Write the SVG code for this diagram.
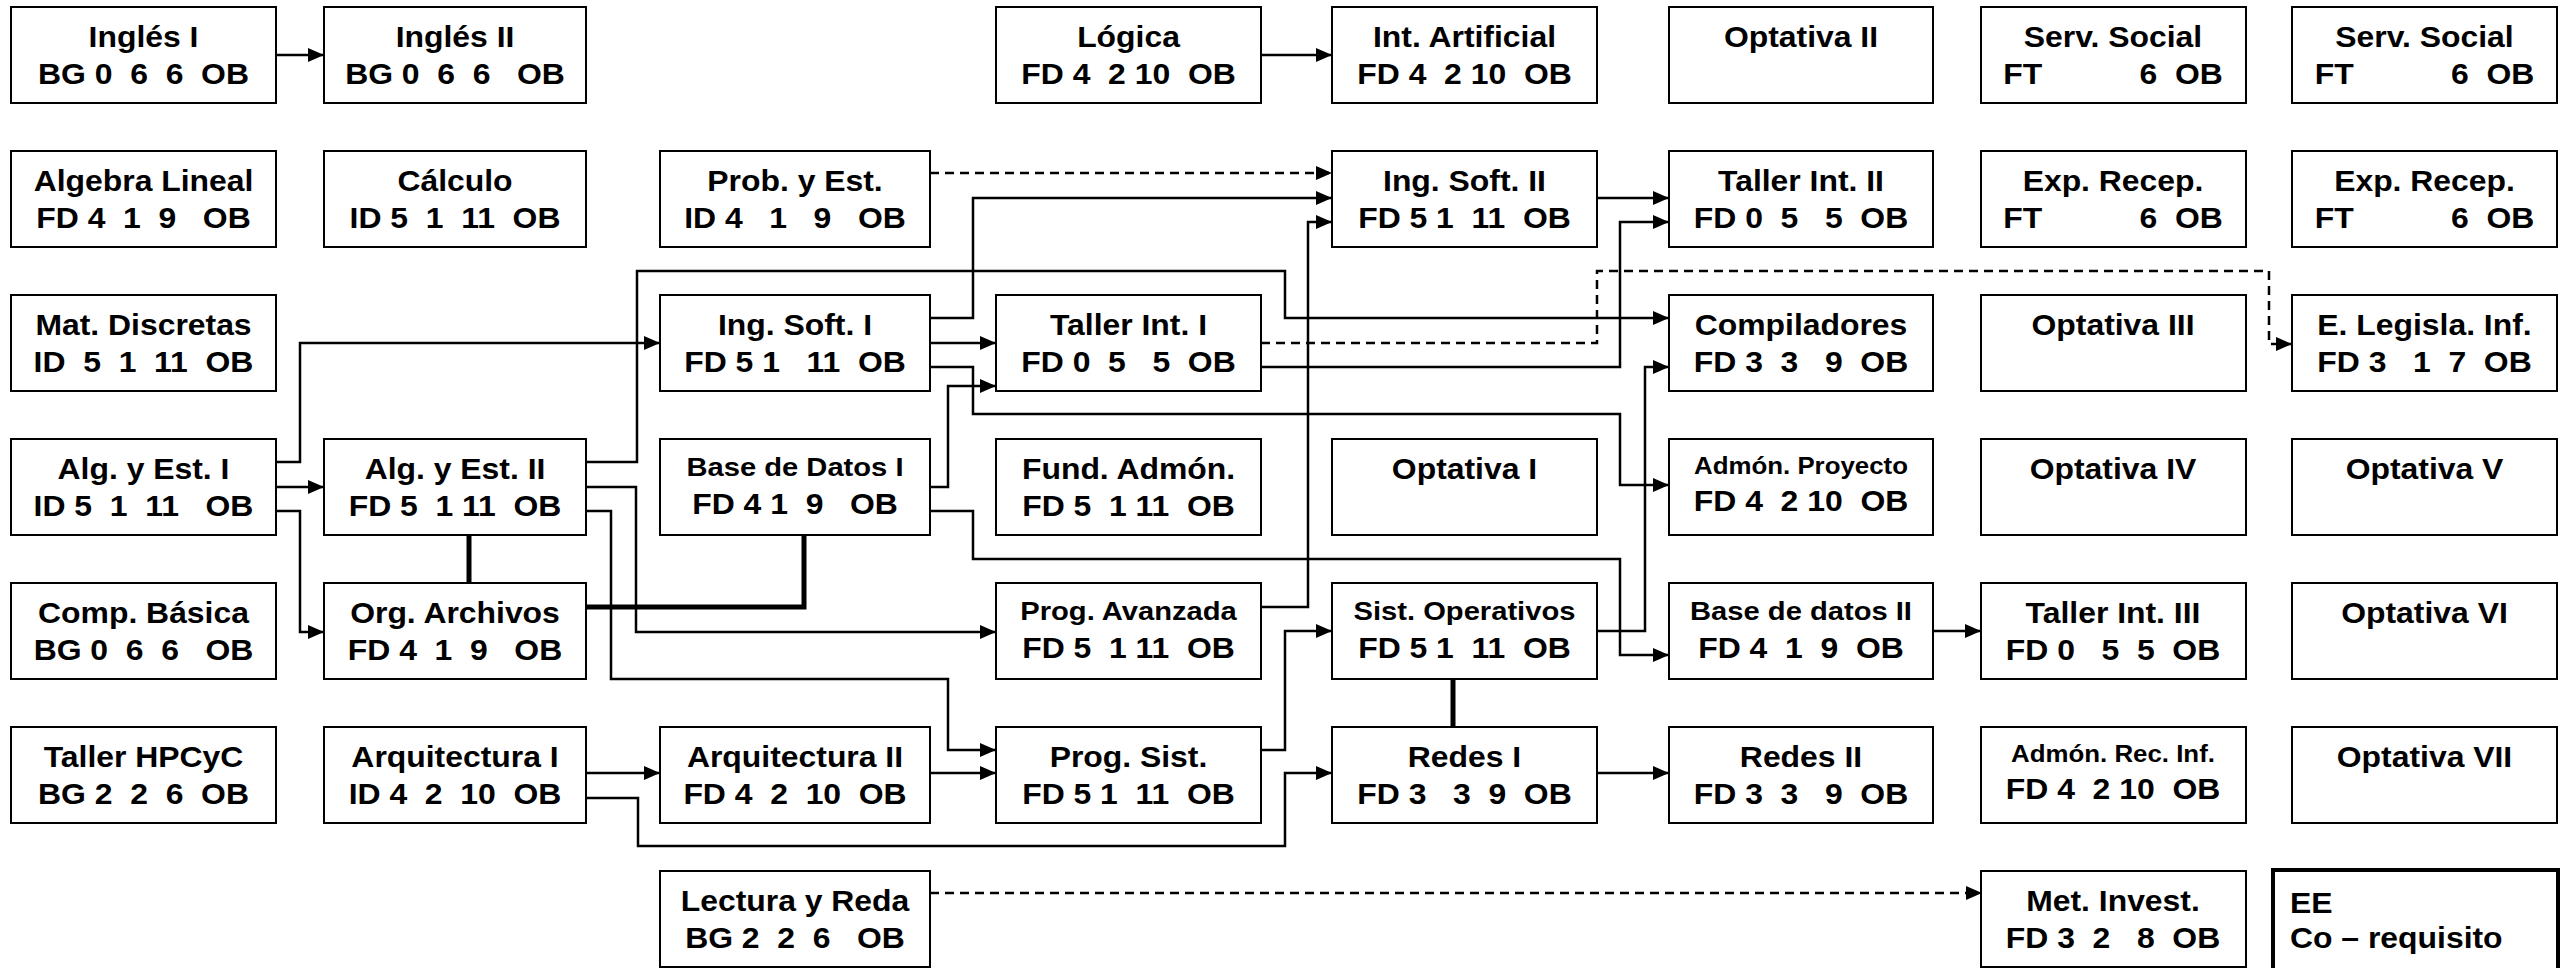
<svg xmlns="http://www.w3.org/2000/svg" width="2569" height="968" viewBox="0 0 2569 968">
<style>
.b{fill:#fff;stroke:#000;stroke-width:2}
.t{font-family:"Liberation Sans",Arial,sans-serif;font-weight:bold;font-size:29px;text-anchor:middle;white-space:pre;fill:#000}
.s{font-size:26.5px}
.xs{font-size:23.5px}
.l{text-anchor:start}
.c{fill:none;stroke:#000;stroke-width:2.5}
.d{stroke-dasharray:9 6}
.k{stroke-width:5}
</style>
<defs>
<marker id="ah" viewBox="0 0 16 14" refX="16" refY="7" markerWidth="16" markerHeight="14" markerUnits="userSpaceOnUse" orient="auto">
<path d="M0,0 L16,7 L0,14 z" fill="#000"/>
</marker>
</defs>
<rect width="2569" height="968" fill="#fff"/>
<g id="connectors">
<g marker-end="url(#ah)">
<path class="c" d="M276,55 H324"/>
<path class="c" d="M1261,55 H1332"/>
<path class="c" d="M930,318 H973 V198 H1332"/>
<path class="c" d="M1261,607 H1308 V222 H1332"/>
<path class="c" d="M1597,198 H1669"/>
<path class="c" d="M1261,367 H1620 V222 H1669"/>
<path class="c" d="M276,462 H300 V343 H660"/>
<path class="c" d="M276,487 H324"/>
<path class="c" d="M276,511 H300 V632 H324"/>
<path class="c" d="M586,462 H637 V271 H1285 V318 H1669"/>
<path class="c" d="M586,487 H636 V632 H996"/>
<path class="c" d="M586,511 H611 V679 H948 V750 H996"/>
<path class="c" d="M930,343 H996"/>
<path class="c" d="M930,487 H948 V386 H996"/>
<path class="c" d="M930,367 H973 V414 H1620 V485 H1669"/>
<path class="c" d="M930,511 H973 V559 H1620 V655 H1669"/>
<path class="c" d="M1597,631 H1645 V367 H1669"/>
<path class="c" d="M1261,750 H1285 V631 H1332"/>
<path class="c" d="M1597,773 H1669"/>
<path class="c" d="M586,798 H638 V846 H1285 V773 H1332"/>
<path class="c" d="M586,773 H660"/>
<path class="c" d="M930,773 H996"/>
<path class="c" d="M1933,631 H1981"/>
<path class="c d" d="M930,173 H1332"/>
<path class="c d" d="M1261,343 H1597 V271 H2269 V344 H2292"/>
<path class="c d" d="M930,893 H1982"/>
</g>
<path class="c k" d="M469,535 V583"/>
<path class="c k" d="M586,607 H804 V535"/>
<path class="c k" d="M1453,679 V727"/>
</g>

<g id="ingles1"><rect class="b" x="11" y="7" width="265" height="96"/><text class="t" transform="translate(143.5 47) scale(1.1 1)">Inglés I</text><text class="t" transform="translate(143.5 84) scale(1.1 1)">BG 0  6  6  OB</text></g>
<g id="ingles2"><rect class="b" x="324" y="7" width="262" height="96"/><text class="t" transform="translate(455 47) scale(1.1 1)">Inglés II</text><text class="t" transform="translate(455 84) scale(1.1 1)">BG 0  6  6   OB</text></g>
<g id="logica"><rect class="b" x="996" y="7" width="265" height="96"/><text class="t" transform="translate(1128.5 47) scale(1.1 1)">Lógica</text><text class="t" transform="translate(1128.5 84) scale(1.1 1)">FD 4  2 10  OB</text></g>
<g id="intart"><rect class="b" x="1332" y="7" width="265" height="96"/><text class="t" transform="translate(1464.5 47) scale(1.1 1)">Int. Artificial</text><text class="t" transform="translate(1464.5 84) scale(1.1 1)">FD 4  2 10  OB</text></g>
<g id="opt2"><rect class="b" x="1669" y="7" width="264" height="96"/><text class="t" transform="translate(1801 47) scale(1.1 1)">Optativa II</text></g>
<g id="serv1"><rect class="b" x="1981" y="7" width="265" height="96"/><text class="t" transform="translate(2113 47) scale(1.1 1)">Serv. Social</text><text class="t" transform="translate(2113 84) scale(1.1 1)">FT           6  OB</text></g>
<g id="serv2"><rect class="b" x="2292" y="7" width="265" height="96"/><text class="t" transform="translate(2424.5 47) scale(1.1 1)">Serv. Social</text><text class="t" transform="translate(2424.5 84) scale(1.1 1)">FT           6  OB</text></g>

<g id="algebra"><rect class="b" x="11" y="151" width="265" height="96"/><text class="t" transform="translate(143.5 191) scale(1.1 1)">Algebra Lineal</text><text class="t" transform="translate(143.5 228) scale(1.1 1)">FD 4  1  9   OB</text></g>
<g id="calculo"><rect class="b" x="324" y="151" width="262" height="96"/><text class="t" transform="translate(455 191) scale(1.1 1)">Cálculo</text><text class="t" transform="translate(455 228) scale(1.1 1)">ID 5  1  11  OB</text></g>
<g id="probest"><rect class="b" x="660" y="151" width="270" height="96"/><text class="t" transform="translate(795 191) scale(1.1 1)">Prob. y Est.</text><text class="t" transform="translate(795 228) scale(1.1 1)">ID 4   1   9   OB</text></g>
<g id="ingsoft2"><rect class="b" x="1332" y="151" width="265" height="96"/><text class="t" transform="translate(1464.5 191) scale(1.1 1)">Ing. Soft. II</text><text class="t" transform="translate(1464.5 228) scale(1.1 1)">FD 5 1  11  OB</text></g>
<g id="tallerint2"><rect class="b" x="1669" y="151" width="264" height="96"/><text class="t" transform="translate(1801 191) scale(1.1 1)">Taller Int. II</text><text class="t" transform="translate(1801 228) scale(1.1 1)">FD 0  5   5  OB</text></g>
<g id="exp1"><rect class="b" x="1981" y="151" width="265" height="96"/><text class="t" transform="translate(2113 191) scale(1.1 1)">Exp. Recep.</text><text class="t" transform="translate(2113 228) scale(1.1 1)">FT           6  OB</text></g>
<g id="exp2"><rect class="b" x="2292" y="151" width="265" height="96"/><text class="t" transform="translate(2424.5 191) scale(1.1 1)">Exp. Recep.</text><text class="t" transform="translate(2424.5 228) scale(1.1 1)">FT           6  OB</text></g>

<g id="matdisc"><rect class="b" x="11" y="295" width="265" height="96"/><text class="t" transform="translate(143.5 335) scale(1.1 1)">Mat. Discretas</text><text class="t" transform="translate(143.5 372) scale(1.1 1)">ID  5  1  11  OB</text></g>
<g id="ingsoft1"><rect class="b" x="660" y="295" width="270" height="96"/><text class="t" transform="translate(795 335) scale(1.1 1)">Ing. Soft. I</text><text class="t" transform="translate(795 372) scale(1.1 1)">FD 5 1   11  OB</text></g>
<g id="tallerint1"><rect class="b" x="996" y="295" width="265" height="96"/><text class="t" transform="translate(1128.5 335) scale(1.1 1)">Taller Int. I</text><text class="t" transform="translate(1128.5 372) scale(1.1 1)">FD 0  5   5  OB</text></g>
<g id="compiladores"><rect class="b" x="1669" y="295" width="264" height="96"/><text class="t" transform="translate(1801 335) scale(1.1 1)">Compiladores</text><text class="t" transform="translate(1801 372) scale(1.1 1)">FD 3  3   9  OB</text></g>
<g id="opt3"><rect class="b" x="1981" y="295" width="265" height="96"/><text class="t" transform="translate(2113 335) scale(1.1 1)">Optativa III</text></g>
<g id="legisla"><rect class="b" x="2292" y="295" width="265" height="96"/><text class="t" transform="translate(2424.5 335) scale(1.1 1)">E. Legisla. Inf.</text><text class="t" transform="translate(2424.5 372) scale(1.1 1)">FD 3   1  7  OB</text></g>

<g id="algest1"><rect class="b" x="11" y="439" width="265" height="96"/><text class="t" transform="translate(143.5 479) scale(1.1 1)">Alg. y Est. I</text><text class="t" transform="translate(143.5 516) scale(1.1 1)">ID 5  1  11   OB</text></g>
<g id="algest2"><rect class="b" x="324" y="439" width="262" height="96"/><text class="t" transform="translate(455 479) scale(1.1 1)">Alg. y Est. II</text><text class="t" transform="translate(455 516) scale(1.1 1)">FD 5  1 11  OB</text></g>
<g id="bd1"><rect class="b" x="660" y="439" width="270" height="96"/><text class="t s" transform="translate(795 476) scale(1.1 1)">Base de Datos I</text><text class="t" transform="translate(795 514) scale(1.1 1)">FD 4 1  9   OB</text></g>
<g id="fundadmon"><rect class="b" x="996" y="439" width="265" height="96"/><text class="t" transform="translate(1128.5 479) scale(1.1 1)">Fund. Admón.</text><text class="t" transform="translate(1128.5 516) scale(1.1 1)">FD 5  1 11  OB</text></g>
<g id="opt1"><rect class="b" x="1332" y="439" width="265" height="96"/><text class="t" transform="translate(1464.5 479) scale(1.1 1)">Optativa I</text></g>
<g id="admonproy"><rect class="b" x="1669" y="439" width="264" height="96"/><text class="t xs" transform="translate(1801 474) scale(1.1 1)">Admón. Proyecto</text><text class="t" transform="translate(1801 511) scale(1.1 1)">FD 4  2 10  OB</text></g>
<g id="opt4"><rect class="b" x="1981" y="439" width="265" height="96"/><text class="t" transform="translate(2113 479) scale(1.1 1)">Optativa IV</text></g>
<g id="opt5"><rect class="b" x="2292" y="439" width="265" height="96"/><text class="t" transform="translate(2424.5 479) scale(1.1 1)">Optativa V</text></g>

<g id="compbasica"><rect class="b" x="11" y="583" width="265" height="96"/><text class="t" transform="translate(143.5 623) scale(1.1 1)">Comp. Básica</text><text class="t" transform="translate(143.5 660) scale(1.1 1)">BG 0  6  6   OB</text></g>
<g id="orgarch"><rect class="b" x="324" y="583" width="262" height="96"/><text class="t" transform="translate(455 623) scale(1.1 1)">Org. Archivos</text><text class="t" transform="translate(455 660) scale(1.1 1)">FD 4  1  9   OB</text></g>
<g id="progav"><rect class="b" x="996" y="583" width="265" height="96"/><text class="t s" transform="translate(1128.5 620) scale(1.1 1)">Prog. Avanzada</text><text class="t" transform="translate(1128.5 658) scale(1.1 1)">FD 5  1 11  OB</text></g>
<g id="sistop"><rect class="b" x="1332" y="583" width="265" height="96"/><text class="t s" transform="translate(1464.5 620) scale(1.1 1)">Sist. Operativos</text><text class="t" transform="translate(1464.5 658) scale(1.1 1)">FD 5 1  11  OB</text></g>
<g id="bd2"><rect class="b" x="1669" y="583" width="264" height="96"/><text class="t s" transform="translate(1801 620) scale(1.1 1)">Base de datos II</text><text class="t" transform="translate(1801 658) scale(1.1 1)">FD 4  1  9  OB</text></g>
<g id="tallerint3"><rect class="b" x="1981" y="583" width="265" height="96"/><text class="t" transform="translate(2113 623) scale(1.1 1)">Taller Int. III</text><text class="t" transform="translate(2113 660) scale(1.1 1)">FD 0   5  5  OB</text></g>
<g id="opt6"><rect class="b" x="2292" y="583" width="265" height="96"/><text class="t" transform="translate(2424.5 623) scale(1.1 1)">Optativa VI</text></g>

<g id="tallerhp"><rect class="b" x="11" y="727" width="265" height="96"/><text class="t" transform="translate(143.5 767) scale(1.1 1)">Taller HPCyC</text><text class="t" transform="translate(143.5 804) scale(1.1 1)">BG 2  2  6  OB</text></g>
<g id="arq1"><rect class="b" x="324" y="727" width="262" height="96"/><text class="t" transform="translate(455 767) scale(1.1 1)">Arquitectura I</text><text class="t" transform="translate(455 804) scale(1.1 1)">ID 4  2  10  OB</text></g>
<g id="arq2"><rect class="b" x="660" y="727" width="270" height="96"/><text class="t" transform="translate(795 767) scale(1.1 1)">Arquitectura II</text><text class="t" transform="translate(795 804) scale(1.1 1)">FD 4  2  10  OB</text></g>
<g id="progsist"><rect class="b" x="996" y="727" width="265" height="96"/><text class="t" transform="translate(1128.5 767) scale(1.1 1)">Prog. Sist.</text><text class="t" transform="translate(1128.5 804) scale(1.1 1)">FD 5 1  11  OB</text></g>
<g id="redes1"><rect class="b" x="1332" y="727" width="265" height="96"/><text class="t" transform="translate(1464.5 767) scale(1.1 1)">Redes I</text><text class="t" transform="translate(1464.5 804) scale(1.1 1)">FD 3   3  9  OB</text></g>
<g id="redes2"><rect class="b" x="1669" y="727" width="264" height="96"/><text class="t" transform="translate(1801 767) scale(1.1 1)">Redes II</text><text class="t" transform="translate(1801 804) scale(1.1 1)">FD 3  3   9  OB</text></g>
<g id="admonrec"><rect class="b" x="1981" y="727" width="265" height="96"/><text class="t xs" transform="translate(2113 762) scale(1.1 1)">Admón. Rec. Inf.</text><text class="t" transform="translate(2113 799) scale(1.1 1)">FD 4  2 10  OB</text></g>
<g id="opt7"><rect class="b" x="2292" y="727" width="265" height="96"/><text class="t" transform="translate(2424.5 767) scale(1.1 1)">Optativa VII</text></g>

<g id="lectura"><rect class="b" x="660" y="871" width="270" height="96"/><text class="t" transform="translate(795 911) scale(1.1 1)">Lectura y Reda</text><text class="t" transform="translate(795 948) scale(1.1 1)">BG 2  2  6   OB</text></g>
<g id="metinv"><rect class="b" x="1981" y="871" width="265" height="96"/><text class="t" transform="translate(2113 911) scale(1.1 1)">Met. Invest.</text><text class="t" transform="translate(2113 948) scale(1.1 1)">FD 3  2   8  OB</text></g>
<g id="legend"><rect x="2273" y="870" width="285" height="110" fill="#fff" stroke="#000" stroke-width="4"/><text class="t l" transform="translate(2290 913) scale(1.1 1)">EE</text><text class="t l" transform="translate(2290 948) scale(1.1 1)">Co – requisito</text></g>
</svg>
